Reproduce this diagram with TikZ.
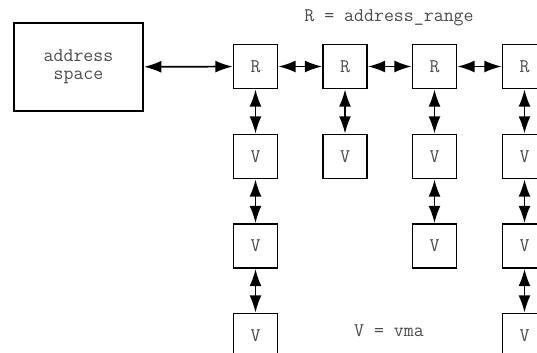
\documentclass[tikz,border=0pt]{standalone}
\usetikzlibrary{arrows.meta}
\begin{document}
\begin{tikzpicture}[x=0.75pt, y=-0.75pt]
			\tikzset{boite/.style={rectangle, draw=black, line width=1.3pt, inner sep=0pt, minimum size=33pt, font=\ttfamily\fontsize{14.5}{13.5}\selectfont, text=black!70}, fleche/.style={{Latex[length=13pt,width=9pt]}-{Latex[length=13pt,width=9pt]}, line width=1.3pt}, legende/.style={font=\ttfamily\fontsize{14.5}{13.5}\selectfont, text=black!70}};

			\clip (0,0) rectangle (537,353);

			\node[boite, minimum width=97pt, minimum height=66.5pt, align=center] (as) at (78.5, 67) {address\\space};

			\node[boite] (r1)  at (255.5,  66.5) {R};
			\node[boite] (r2)  at (  345,  66.5) {R};
			\node[boite] (r3)  at (434.5,  66.5) {R};
			\node[boite] (r4)  at (524.5,  66.5) {R};

			\node[boite] (v11) at (255.5, 156.5) {V};
			\node[boite] (v12) at (255.5,   246) {V};
			\node[boite] (v13) at (255.5, 335.5) {V};
			\node[boite] (v21) at (  345, 156.5) {V};
			\node[boite] (v31) at (434.5, 156.5) {V};
			\node[boite] (v32) at (434.5,   246) {V};
			\node[boite] (v41) at (524.5, 156.5) {V};
			\node[boite] (v42) at (524.5,   246) {V};
			\node[boite] (v43) at (524.5, 335.5) {V};

			\node[legende] (lr) at (389, 18) {R = address\_range};
			\node[legende] (lv) at (389, 331) {V = vma};

			\draw[fleche] (as) -- (r1);
			\draw[fleche] (r1) -- (r2);
			\draw[fleche] (r2) -- (r3);
			\draw[fleche] (r3) -- (r4);

			\draw[fleche] (r1) -- (v11);
			\draw[fleche] (v11) -- (v12);
			\draw[fleche] (v12) -- (v13);
			\draw[fleche] (r2) -- (v21);
			\draw[fleche] (r3) -- (v31);
			\draw[fleche] (v31) -- (v32);
			\draw[fleche] (r4) -- (v41);
			\draw[fleche] (v41) -- (v42);
			\draw[fleche] (v42) -- (v43);
		\end{tikzpicture}
\end{document}
